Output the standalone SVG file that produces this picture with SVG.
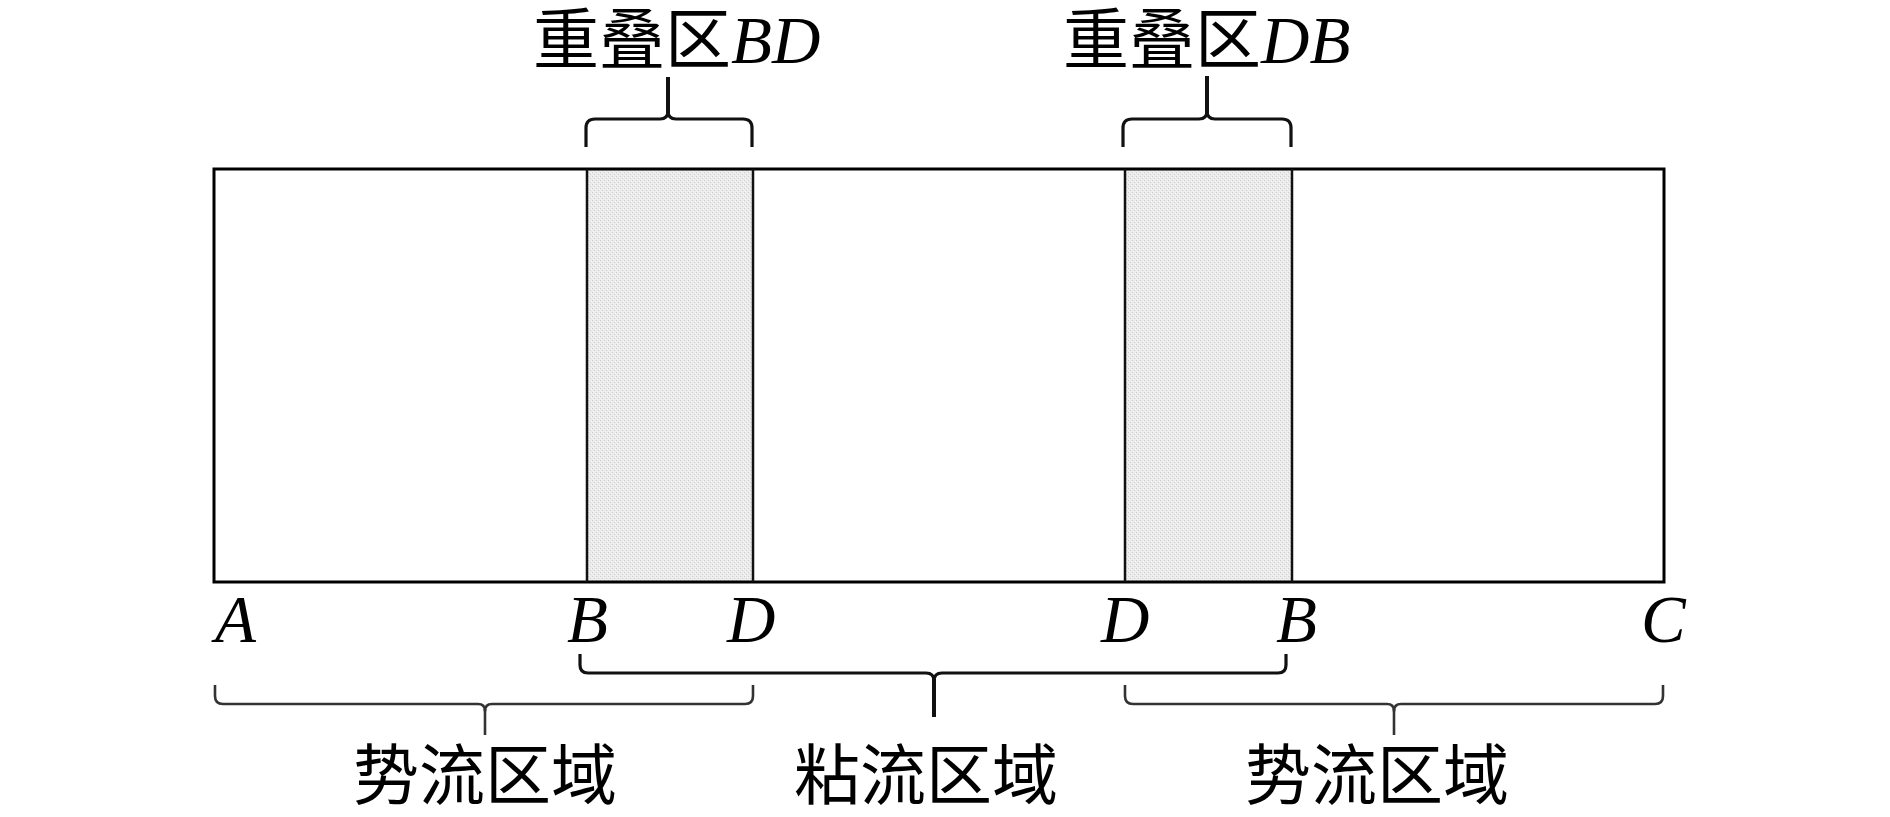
<svg xmlns="http://www.w3.org/2000/svg" width="1890" height="817" viewBox="0 0 1890 817">
<style>
.cjk{font-family:"Liberation Serif","Noto Sans CJK SC",serif;font-size:66px;fill:#000}
.it{font-family:"Liberation Serif",serif;font-style:italic;font-size:67px;fill:#000}
.brace{fill:none;stroke:#111;stroke-width:3.2;stroke-linejoin:round}
.brace2{fill:none;stroke:#333;stroke-width:2.6;stroke-linejoin:round}
.stem{fill:none;stroke:#111;stroke-width:4}
</style>
<defs>
<pattern id="dots" width="4" height="4" patternUnits="userSpaceOnUse">
<rect width="4" height="4" fill="#ebebeb"/>
<rect x="0" y="0" width="1" height="1" fill="#cfcfcf"/>
<rect x="2" y="2" width="1" height="1" fill="#cfcfcf"/>
<rect x="1" y="3" width="1" height="1" fill="#f7f7f7"/>
<rect x="3" y="1" width="1" height="1" fill="#f7f7f7"/>
</pattern>
</defs>
<rect width="1890" height="817" fill="#fff"/>

<g id="domain">
<rect x="587" y="169" width="166" height="413" fill="url(#dots)"/>
<rect x="1125" y="169" width="167" height="413" fill="url(#dots)"/>
<rect x="214" y="169" width="1450" height="413" fill="none" stroke="#000" stroke-width="3"/>
<line x1="587" y1="169" x2="587" y2="582" stroke="#111" stroke-width="2.5"/>
<line x1="753" y1="169" x2="753" y2="582" stroke="#111" stroke-width="2.5"/>
<line x1="1125" y1="169" x2="1125" y2="582" stroke="#111" stroke-width="2.5"/>
<line x1="1292" y1="169" x2="1292" y2="582" stroke="#111" stroke-width="2.5"/>
</g>

<g id="labels">
<text class="it" x="215" y="642">A</text>
<text class="it" x="567" y="642">B</text>
<text class="it" x="727" y="642">D</text>
<text class="it" x="1101" y="642">D</text>
<text class="it" x="1276" y="642">B</text>
<text class="it" x="1641" y="642">C</text>
</g>

<g id="overlap-BD">
<text class="cjk" x="533" y="63">重叠区<tspan class="it">BD</tspan></text>
</g>
<g id="overlap-DB">
<text class="cjk" x="1063" y="63">重叠区<tspan class="it">DB</tspan></text>
</g>
<g id="potential-left">
<text class="cjk" x="485" y="799" text-anchor="middle">势流区域</text>
</g>
<g id="viscous">
<text class="cjk" x="926" y="799" text-anchor="middle">粘流区域</text>
</g>
<g id="potential-right">
<text class="cjk" x="1377" y="799" text-anchor="middle">势流区域</text>
</g>

<g id="connectors">
<path class="brace" d="M586,147 V128 Q586,119 595,119 H660 Q668,119 668,111 Q668,119 676,119 H743 Q752,119 752,128 V147"/>
<line class="stem" x1="668" y1="113" x2="668" y2="77"/>
<path class="brace" d="M1123,147 V128 Q1123,119 1132,119 H1199 Q1207,119 1207,111 Q1207,119 1215,119 H1282 Q1291,119 1291,128 V147"/>
<line class="stem" x1="1207" y1="113" x2="1207" y2="76"/>
<path class="brace" d="M580,654 V665 Q580,673 588,673 H926 Q934,673 934,681 Q934,673 942,673 H1278 Q1286,673 1286,665 V654"/>
<line class="stem" x1="934" y1="679" x2="934" y2="717"/>
<path class="brace2" d="M215,685 V696 Q215,704 223,704 H478 Q485,704 485,711 Q485,704 492,704 H745 Q753,704 753,696 V685"/>
<line class="brace2" x1="485" y1="709" x2="485" y2="735"/>
<path class="brace2" d="M1125,685 V696 Q1125,704 1133,704 H1387 Q1394,704 1394,711 Q1394,704 1401,704 H1655 Q1663,704 1663,696 V685"/>
<line class="brace2" x1="1394" y1="709" x2="1394" y2="735"/>
</g>
</svg>
